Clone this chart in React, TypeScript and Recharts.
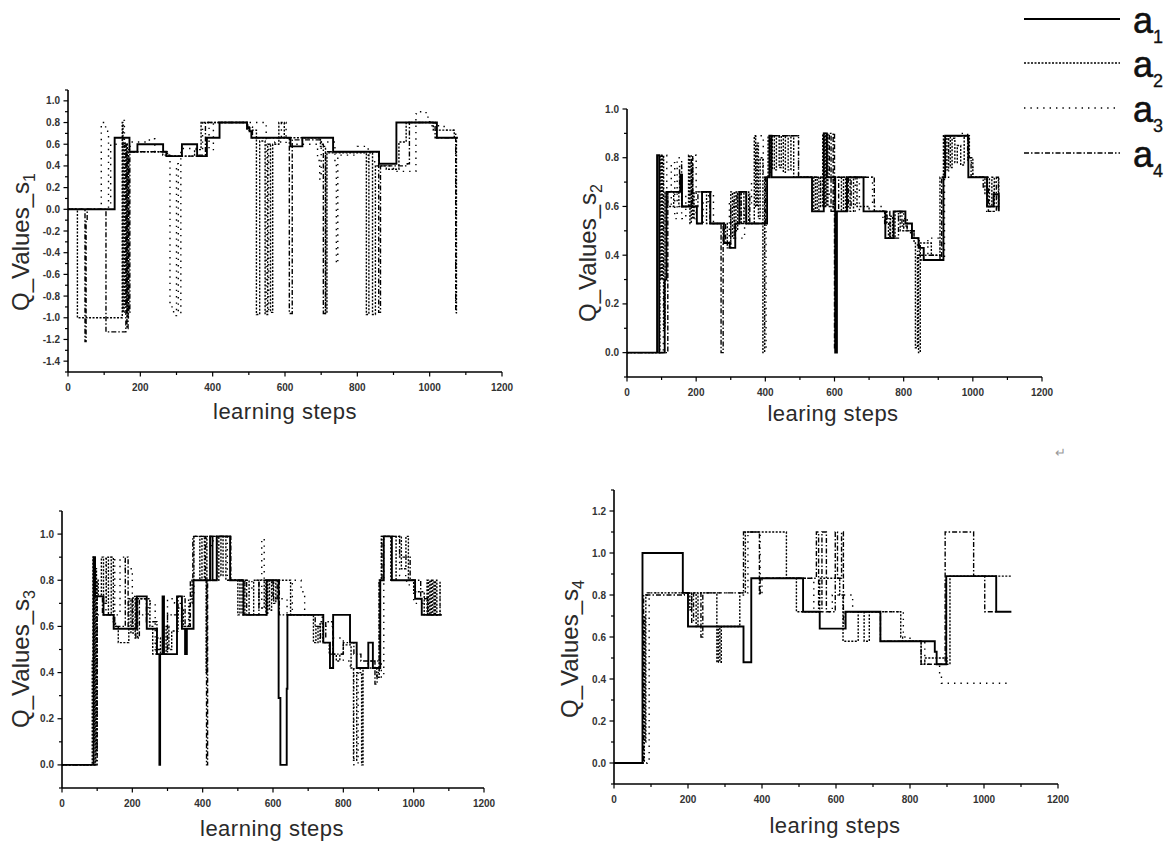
import React from 'react';
import { LineChart, Line, XAxis, YAxis } from 'recharts';

type Pt = [number, number];

// ---------- tick labels ----------
const xTickLabels = [0, 200, 400, 600, 800, 1000, 1200];
const s1YTickLabels = [-1.4, -1.2, -1.0, -0.8, -0.6, -0.4, -0.2, 0.0, 0.2, 0.4, 0.6, 0.8, 1.0];
const s2YTickLabels = [0.0, 0.2, 0.4, 0.6, 0.8, 1.0];
const s3YTickLabels = [0.0, 0.2, 0.4, 0.6, 0.8, 1.0];
const s4YTickLabels = [0.0, 0.2, 0.4, 0.6, 0.8, 1.0, 1.2];
const seriesSubs = ['1', '2', '3', '4'];

// ---------- state s1 ----------
const s1_a1: Pt[] = [[0,0],[129,0.66],[170,0.53],[192,0.6],[263,0.53],[272,0.49],[315,0.6],[357,0.49],[384,0.66],[419,0.8],[495,0.75],[502,0.72],[507,0.66],[615,0.58],[648,0.66],[733,0.53],[860,0.42],[908,0.8],[1020,0.66],[1078,0.66]];
const s1_a2: Pt[] = [[0,0],[26,-1.0],[150,0.8],[152,-0.95],[155,0.62],[158,-0.9],[161,0.6],[164,-1.0],[167,0.55],[170,0.53],[262,0.5],[285,0.49],[350,0.55],[368,0.8],[400,0.8],[495,0.73],[521,-0.97],[530,0.63],[545,-0.97],[552,0.6],[560,-0.95],[566,0.6],[583,0.8],[598,0.66],[650,0.66],[698,0.58],[712,-0.96],[716,0.52],[825,-0.97],[832,0.52],[842,-0.97],[850,0.4],[880,0.37],[915,0.62],[935,0.8],[1010,0.73],[1068,0.66],[1074,-0.96]];
const s1_a3: Pt[] = [[0,0],[90,0.02],[92,0.78],[98,0.8],[104,0.72],[112,0.02],[118,0.6],[148,0.6],[152,0.82],[156,0.58],[175,0.62],[225,0.65],[240,0.53],[282,-0.9],[292,-0.98],[300,0.42],[305,-0.96],[312,0.56],[345,0.56],[372,0.8],[390,0.55],[402,0.8],[510,0.8],[535,0.8],[548,-0.95],[555,0.6],[572,0.62],[590,0.8],[603,0.6],[690,0.45],[696,0.28],[700,0.62],[738,0.45],[742,-0.5],[746,0.5],[800,0.58],[830,0.44],[848,0.4],[900,0.35],[962,0.88],[975,0.9],[990,0.85],[1000,0.77],[1040,0.73],[1065,0.72],[1072,-0.95]];
const s1_a4: Pt[] = [[0,0],[47,-1.22],[50,-0.1],[53,0],[105,-1.13],[160,0.6],[163,-1.1],[166,0.5],[168,-0.95],[171,0.53],[262,0.53],[275,0.49],[362,0.5],[380,0.8],[497,0.76],[510,0.66],[608,0.66],[612,-0.96],[620,0.64],[700,0.6],[706,-0.96],[712,0.53],[856,0.53],[859,-0.95],[864,0.4],[938,0.42],[944,0.8],[1015,0.66],[1068,0.66],[1072,-0.95]];

// ---------- state s2 ----------
const s2_a1: Pt[] = [[0,0],[87,0.81],[93,0],[109,0.3],[114,0.66],[154,0.73],[159,0.6],[202,0.53],[217,0.66],[241,0.53],[280,0.45],[297,0.43],[313,0.53],[325,0.66],[345,0.53],[405,0.72],[412,0.89],[418,0.72],[535,0.58],[569,0.9],[578,0.72],[602,0],[607,0.58],[636,0.72],[684,0.58],[747,0.47],[771,0.58],[805,0.53],[824,0.47],[843,0.43],[858,0.38],[915,0.72],[920,0.89],[987,0.72],[1041,0.6],[1060,0.65],[1075,0.58]];
const s2_a2: Pt[] = [[0,0],[95,0.81],[98,0.3],[102,0.81],[106,0.1],[110,0.66],[118,0.6],[135,0.66],[150,0.6],[178,0.81],[182,0.53],[186,0.78],[190,0.55],[194,0.66],[230,0.53],[290,0.43],[300,0.66],[305,0.47],[310,0.66],[315,0.5],[320,0.66],[325,0.53],[330,0.66],[338,0.53],[345,0.66],[352,0.53],[368,0.89],[372,0.6],[376,0.86],[380,0.55],[385,0.8],[393,0],[398,0.72],[408,0.89],[414,0.75],[420,0.89],[426,0.75],[432,0.89],[440,0.76],[446,0.89],[452,0.74],[458,0.89],[466,0.75],[474,0.89],[482,0.72],[540,0.58],[545,0.72],[550,0.58],[555,0.72],[560,0.6],[566,0.9],[569,0.6],[572,0.9],[575,0.6],[578,0.9],[581,0.6],[600,0.72],[620,0.58],[626,0.72],[632,0.58],[638,0.72],[645,0.58],[655,0.72],[665,0.6],[700,0.58],[750,0.53],[756,0.47],[762,0.56],[768,0.47],[775,0.58],[790,0.5],[800,0.55],[810,0.5],[830,0.45],[834,0.02],[840,0.4],[843,0],[848,0.45],[880,0.4],[905,0.72],[915,0.89],[925,0.75],[930,0.89],[935,0.76],[940,0.88],[948,0.78],[955,0.85],[965,0.77],[975,0.89],[990,0.8],[1000,0.72],[1035,0.65],[1042,0.72],[1048,0.6],[1055,0.72],[1062,0.6],[1072,0.6],[1075,0.72]];
const s2_a3: Pt[] = [[0,0],[105,0.81],[115,0.6],[128,0.78],[138,0.55],[145,0.8],[158,0.55],[170,0.65],[190,0.81],[200,0.53],[220,0.62],[236,0.66],[250,0.53],[282,0.45],[296,0.62],[310,0.47],[340,0.6],[360,0.7],[372,0.89],[394,0.72],[398,0.02],[402,0.72],[415,0.89],[492,0.89],[496,0.72],[560,0.65],[600,0.72],[660,0.58],[672,0.72],[700,0.72],[710,0.6],[740,0.55],[785,0.58],[800,0.5],[820,0.47],[840,0.38],[870,0.47],[905,0.38],[918,0.72],[930,0.89],[960,0.9],[985,0.78],[1000,0.72],[1040,0.58],[1060,0.7],[1072,0.72]];
const s2_a4: Pt[] = [[0,0],[118,0.66],[152,0.77],[158,0.6],[186,0.81],[190,0.6],[205,0.66],[240,0.53],[268,0.53],[272,0],[278,0.53],[285,0.45],[300,0.6],[318,0.66],[330,0.53],[345,0.65],[355,0.53],[400,0.72],[412,0.89],[492,0.89],[496,0.72],[550,0.72],[585,0.9],[590,0.58],[596,0.9],[600,0.02],[604,0.58],[612,0.72],[640,0.6],[648,0.72],[700,0.72],[715,0.58],[745,0.53],[752,0.58],[760,0.47],[785,0.58],[795,0.52],[810,0.5],[830,0.47],[845,0.4],[905,0.38],[910,0.72],[918,0.89],[980,0.89],[985,0.8],[995,0.72],[1030,0.68],[1045,0.58],[1068,0.72],[1074,0.58]];

// ---------- state s3 ----------
const s3_a1: Pt[] = [[0,0],[90,0.9],[94,0.73],[118,0.65],[147,0.59],[213,0.73],[241,0.59],[270,0.48],[277,0],[279,0.48],[286,0.73],[290,0.48],[327,0.73],[341,0.59],[350,0.48],[355,0.59],[374,0.8],[421,0.99],[428,0.8],[440,0.99],[478,0.8],[516,0.65],[582,0.8],[616,0.29],[621,0],[639,0.33],[641,0.65],[743,0.53],[762,0.42],[771,0.65],[819,0.53],[838,0.42],[871,0.53],[884,0.42],[905,0.8],[915,0.99],[938,0.8],[1004,0.72],[1023,0.65],[1080,0.65]];
const s3_a2: Pt[] = [[0,0],[86,0.45],[88,0.9],[90,0.1],[92,0.88],[94,0],[96,0.85],[98,0.05],[100,0.8],[103,0.73],[112,0.9],[118,0.7],[126,0.9],[132,0.65],[140,0.9],[146,0.62],[152,0.6],[160,0.53],[185,0.53],[190,0.72],[196,0.57],[202,0.73],[208,0.55],[215,0.72],[250,0.6],[258,0.48],[268,0.55],[280,0.48],[296,0.6],[304,0.5],[312,0.58],[330,0.68],[345,0.6],[362,0.7],[370,0.8],[375,0.99],[392,0.8],[398,0.99],[405,0.8],[410,0.4],[412,0.99],[440,0.8],[446,0.99],[452,0.82],[458,0.99],[466,0.8],[500,0.65],[506,0.8],[512,0.65],[520,0.8],[532,0.65],[545,0.8],[560,0.68],[575,0.8],[580,0.65],[585,0.8],[590,0.67],[596,0.8],[602,0.7],[608,0.8],[640,0.8],[650,0.65],[715,0.53],[722,0.6],[728,0.53],[734,0.62],[742,0.53],[760,0.48],[780,0.45],[790,0.48],[800,0.52],[822,0.42],[829,0.02],[838,0.4],[852,0],[856,0.42],[880,0.42],[895,0.38],[902,0.8],[908,0.99],[935,0.8],[950,0.99],[965,0.85],[978,0.99],[985,0.8],[1000,0.75],[1030,0.65],[1038,0.8],[1042,0.65],[1046,0.8],[1050,0.65],[1054,0.8],[1058,0.65],[1062,0.8],[1066,0.65],[1075,0.8]];
const s3_a3: Pt[] = [[0,0],[95,0.02],[100,0.65],[125,0.9],[150,0.65],[165,0.9],[180,0.85],[200,0.65],[245,0.7],[265,0.48],[300,0.72],[320,0.7],[340,0.6],[360,0.73],[375,0.99],[410,0.95],[430,0.99],[470,0.8],[520,0.75],[540,0.8],[560,0.7],[568,0.98],[575,0.8],[600,0.72],[640,0.65],[655,0.8],[680,0.75],[690,0.65],[740,0.6],[770,0.55],[800,0.45],[820,0.42],[830,0],[842,0.4],[848,0.42],[870,0.45],[908,0.38],[915,0.99],[960,0.82],[980,0.78],[1000,0.7],[1040,0.7],[1060,0.65],[1075,0.8]];
const s3_a4: Pt[] = [[0,0],[100,0.73],[115,0.65],[150,0.6],[180,0.9],[188,0.6],[200,0.72],[210,0.55],[220,0.72],[240,0.62],[270,0.5],[300,0.65],[330,0.73],[350,0.6],[365,0.8],[372,0.99],[408,0.8],[411,0],[414,0.8],[440,0.99],[475,0.99],[480,0.8],[495,0.8],[525,0.65],[560,0.8],[585,0.8],[600,0.72],[612,0.8],[618,0.65],[700,0.65],[720,0.6],[735,0.55],[750,0.62],[770,0.48],[800,0.53],[830,0.48],[850,0.45],[890,0.35],[896,0.4],[902,0.8],[910,0.99],[960,0.9],[990,0.8],[1020,0.72],[1040,0.65],[1075,0.65]];

// ---------- state s4 ----------
const s4_a1: Pt[] = [[0,0],[77,1.0],[186,0.81],[200,0.65],[350,0.48],[371,0.88],[511,0.72],[556,0.64],[626,0.72],[720,0.58],[867,0.53],[872,0.47],[898,0.89],[1033,0.72],[1074,0.72]];
const s4_a2: Pt[] = [[0,0],[80,0.0],[82,0.7],[84,0.1],[86,0.8],[90,0.81],[200,0.81],[205,0.73],[210,0.81],[222,0.65],[227,0.81],[240,0.81],[278,0.48],[282,0.65],[286,0.48],[290,0.65],[340,0.81],[355,1.1],[466,0.88],[493,0.72],[540,0.72],[556,0.88],[610,0.8],[619,0.58],[660,0.72],[676,0.58],[690,0.72],[775,0.6],[780,0.58],[830,0.47],[840,0.5],[900,0.47],[908,0.89],[1000,0.89],[1030,0.89],[1074,0.89]];
const s4_a3: Pt[] = [[0,0],[90,0.01],[95,0.81],[240,0.81],[290,0.81],[340,0.8],[350,0.81],[362,1.1],[395,0.8],[400,0.88],[500,0.88],[540,0.72],[590,0.8],[640,0.8],[645,0.72],[700,0.72],[780,0.72],[782,0.6],[800,0.58],[840,0.47],[880,0.43],[885,0.38],[1074,0.38]];
const s4_a4: Pt[] = [[0,0],[80,0.8],[190,0.81],[210,0.67],[215,0.81],[235,0.6],[240,0.81],[350,1.1],[393,0.8],[395,0.88],[500,0.88],[547,1.1],[553,0.72],[562,1.1],[574,0.72],[598,1.1],[604,0.88],[615,1.1],[620,0.66],[625,0.72],[700,0.72],[720,0.58],[830,0.47],[895,1.1],[972,0.89],[1002,0.72],[1020,0.72],[1035,0.72]];

// ---------- styles ----------
const FONT = 'Liberation Sans, Arial, Helvetica, sans-serif';
const lineStyles = [
  { stroke: '#000', strokeWidth: 1.9, dash: undefined as string | undefined },
  { stroke: '#000', strokeWidth: 1.4, dash: '2 1.5' },
  { stroke: '#000', strokeWidth: 1.4, dash: '1.4 5' },
  { stroke: '#000', strokeWidth: 1.4, dash: '5 2 1.5 2' },
];
const drawOrder = [1, 2, 3, 0];

const panels = [
  { left: 68, top: 90, right: 502, bottom: 372, yDomain: [-1.5, 1.1], yLabels: s1YTickLabels, series: [s1_a1, s1_a2, s1_a3, s1_a4], sub: '1', yTx: 29, yTy: 242, xTitle: 'learning steps', xTx: 285, xTy: 419 },
  { left: 627, top: 109, right: 1042, bottom: 377, yDomain: [-0.1, 1.0], yLabels: s2YTickLabels, series: [s2_a1, s2_a2, s2_a3, s2_a4], sub: '2', yTx: 596, yTy: 253, xTitle: 'learing steps', xTx: 833, xTy: 421 },
  { left: 62, top: 511, right: 484, bottom: 788, yDomain: [-0.1, 1.1], yLabels: s3YTickLabels, series: [s3_a1, s3_a2, s3_a3, s3_a4], sub: '3', yTx: 29, yTy: 659, xTitle: 'learning steps', xTx: 272, xTy: 836 },
  { left: 614, top: 490, right: 1058, bottom: 784, yDomain: [-0.1, 1.3], yLabels: s4YTickLabels, series: [s4_a1, s4_a2, s4_a3, s4_a4], sub: '4', yTx: 578, yTy: 649, xTitle: 'learing steps', xTx: 835, xTy: 833 },
];

const toRows = (pts: Pt[]) => pts.map(([x, y]) => ({ x, y }));

const stepTicks = (lo: number, hi: number, step: number) => {
  const out: number[] = [];
  const n = Math.round((hi - lo) / step);
  for (let i = 0; i <= n; i++) out.push(Math.round((lo + i * step) * 1000) / 1000);
  return out;
};

const isIn = (v: number, arr: number[]) => arr.some((a) => Math.abs(a - v) < 1e-6);

const XTick = (props: any) => {
  const { x, y, payload } = props;
  const v = payload.value;
  const major = isIn(v, xTickLabels);
  return (
    <g>
      <line x1={x} y1={y} x2={x} y2={y + (major ? 4.5 : 3)} stroke="#000" strokeWidth={1.2} />
      {major && (
        <text x={x} y={y + 19} textAnchor="middle" fontSize={10} fontWeight="bold" fill="#333" fontFamily={FONT}>
          {v}
        </text>
      )}
    </g>
  );
};

const makeYTick = (labels: number[]) => (props: any) => {
  const { x, y, payload } = props;
  const v = payload.value;
  const major = isIn(v, labels);
  return (
    <g>
      <line x1={x} y1={y} x2={x - (major ? 4.5 : 3)} y2={y} stroke="#000" strokeWidth={1.2} />
      {major && (
        <text x={x - 8} y={y + 3.5} textAnchor="end" fontSize={10} fontWeight="bold" fill="#333" fontFamily={FONT}>
          {v.toFixed(1)}
        </text>
      )}
    </g>
  );
};

const ML = 60, MT = 12, MR = 30, MB = 40;
const YW = 40, XH = 30;

function Panel({ p }: { p: (typeof panels)[number] }) {
  const w = p.right - p.left + ML + MR;
  const h = p.bottom - p.top + MT + MB;
  const xTicks = stepTicks(0, 1200, 100);
  const yTicks = stepTicks(p.yDomain[0], p.yDomain[1], 0.1);
  const YTick = makeYTick(p.yLabels);
  return (
    <div style={{ position: 'absolute', left: p.left - ML, top: p.top - MT, width: w, height: h }}>
      <LineChart width={w} height={h} margin={{ top: MT, right: MR, bottom: MB - XH, left: ML - YW }}>
        <XAxis
          type="number"
          dataKey="x"
          domain={[0, 1200]}
          ticks={xTicks}
          interval={0}
          height={XH}
          tickSize={0}
          tickMargin={0}
          tickLine={false}
          tick={(tp: any) => <XTick {...tp} />}
          axisLine={{ stroke: '#000', strokeWidth: 1.6 }}
          allowDataOverflow
        />
        <YAxis
          type="number"
          domain={p.yDomain as [number, number]}
          ticks={yTicks}
          interval={0}
          width={YW}
          tickSize={0}
          tickMargin={0}
          tickLine={false}
          tick={(tp: any) => <YTick {...tp} />}
          axisLine={{ stroke: '#000', strokeWidth: 1.6 }}
          allowDataOverflow
        />
        {drawOrder.map((i) => (
          <Line
            key={i}
            data={toRows(p.series[i])}
            dataKey="y"
            name={'a' + seriesSubs[i]}
            type="stepAfter"
            stroke={lineStyles[i].stroke}
            strokeWidth={lineStyles[i].strokeWidth}
            strokeDasharray={lineStyles[i].dash}
            dot={false}
            activeDot={false}
            isAnimationActive={false}
          />
        ))}
      </LineChart>
    </div>
  );
}

const legendRows = [19, 63, 108, 153];

export default function App() {
  return (
    <div style={{ position: 'absolute', left: 0, top: 0, width: 1174, height: 846, background: '#fff', fontFamily: FONT, overflow: 'hidden' }}>
      {panels.map((p, i) => (
        <Panel key={i} p={p} />
      ))}
      <svg width={1174} height={846} style={{ position: 'absolute', left: 0, top: 0, pointerEvents: 'none' }}>
        {panels.map((p, i) => (
          <g key={i} fontFamily={FONT}>
            <text transform={`translate(${p.yTx},${p.yTy}) rotate(-90)`} textAnchor="middle" fontSize={24} fill="#2a2a2a">
              Q_Values_s<tspan fontSize={16} dy={6}>{p.sub}</tspan>
            </text>
            <text x={p.xTx} y={p.xTy} textAnchor="middle" fontSize={22} fill="#2a2a2a" letterSpacing={0.5}>
              {p.xTitle}
            </text>
          </g>
        ))}
        {legendRows.map((ly, i) => (
          <g key={i} fontFamily={FONT}>
            <line x1={1024} y1={ly} x2={1120} y2={ly} stroke={lineStyles[i].stroke} strokeWidth={i === 0 ? 2.2 : 1.6} strokeDasharray={lineStyles[i].dash} />
            <text x={1133} y={ly + 14} fontSize={36} fill="#111" stroke="#111" strokeWidth={0.6}>
              a<tspan fontSize={18} dy={10} strokeWidth={0.3}>{seriesSubs[i]}</tspan>
            </text>
          </g>
        ))}
        <text x={1055} y={457} fontSize={13} fill="#999" fontFamily={FONT}>↵</text>
      </svg>
    </div>
  );
}
